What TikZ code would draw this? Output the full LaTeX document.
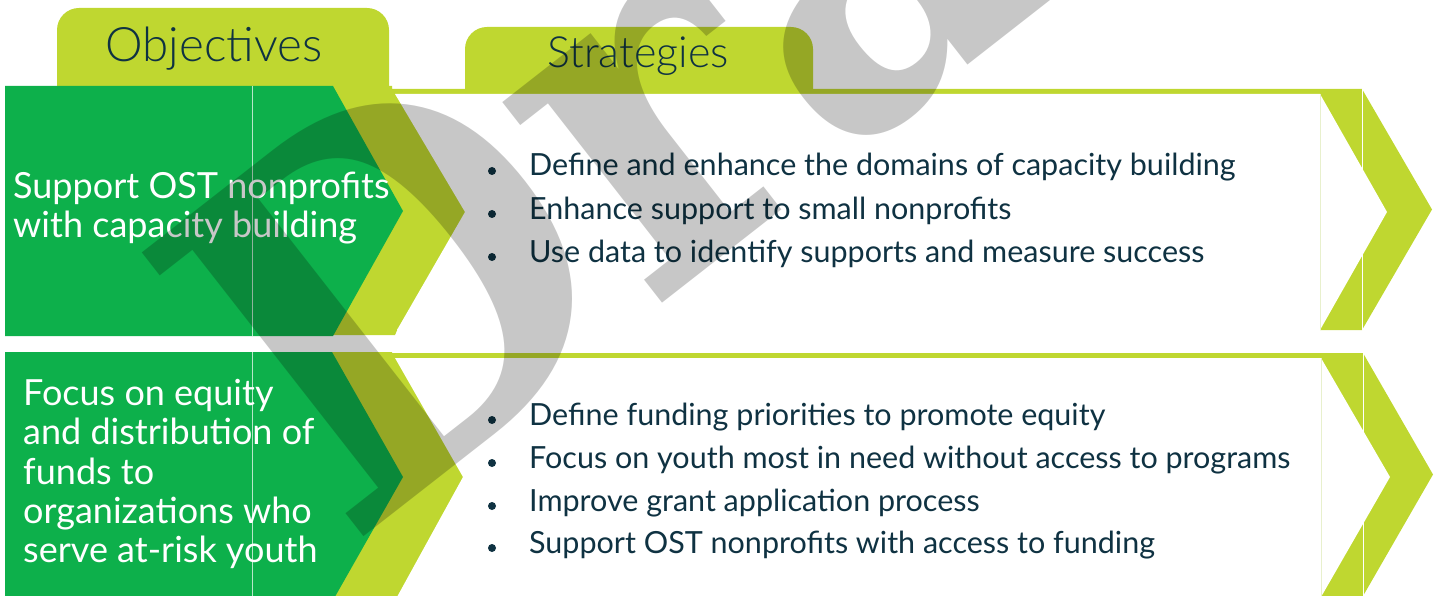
\documentclass[tikz,border=0pt]{standalone}
\usepackage{fontspec}
\setmainfont{Lato}
\IfFontExistsTF{Lato Light}{\newfontfamily\lightfont{Lato Light}}{\newfontfamily\lightfont{Lato}}
\newfontfamily\wmfont{DejaVu Serif}
\definecolor{limeG}{RGB}{191,215,48}
\definecolor{greenG}{RGB}{13,176,75}
\definecolor{navyT}{RGB}{15,50,66}
\definecolor{seamW}{RGB}{232,240,205}
\tikzset{
  headtxt/.style={inner sep=0, anchor=base, text=navyT, font=\lightfont\fontsize{#1}{#1}\selectfont},
  objtxt/.style={inner sep=0, anchor=base west, text=white, font=\fontsize{36}{40}\selectfont},
  bultxt/.style={inner sep=0, anchor=base west, text=navyT, font=\fontsize{30.5}{34}\selectfont},
  bulletdot/.style={circle, fill=navyT, inner sep=0, minimum size=8pt},
  wm/.style={inner sep=0, anchor=base west, rotate=38, text=black, text opacity=0.22, font=\wmfont\bfseries\fontsize{494}{494}\selectfont}
}
\begin{document}
\begin{tikzpicture}[x=1pt,y=-1pt]
\useasboundingbox (0,0) rectangle (1440,596);
\clip (0,0) rectangle (1440,596);
% tabs
\fill[limeG] (57,100) [rounded corners=22] -- (57,8) -- (389,8) [sharp corners] -- (389,100) -- cycle;
\fill[limeG] (465,94) [rounded corners=22] -- (465,27) -- (813,27) [sharp corners] -- (813,94) -- cycle;
% row 1 lime band and white chevron
\fill[limeG] (300,86) -| (392,89) -- (1362,89) -- (1432,209.5) -- (1362,330) -- (1320,330) -- (1320,328) -- (398,328) -- (395,335) -- (300,335) -- cycle;
\fill[white] (395,94) -- (1320,94) -- (1387,212) -- (1320,330) -- (397,330) -- (465,212) -- cycle;
\draw[seamW, line width=1pt] (1320,94) -- (1320,330);
\draw[white, line width=1pt] (1362,89) -- (1362,330);
% row 2 lime band and white chevron
\fill[limeG] (300,352) -| (392,353) -- (1363,353) -- (1433,474.5) -- (1363,596) -- (300,596) -- cycle;
\fill[white] (395,358) -- (1321,358) -- (1390,477) -- (1321,597) -- (397,597) -- (463,477) -- cycle;
\draw[seamW, line width=1pt] (1321,358) -- (1321,596);
\draw[white, line width=1pt] (1363,353) -- (1363,596);
% green arrows
\fill[greenG] (5,86) -- (333,86) -- (403,211) -- (333,336) -- (5,336) -- cycle;
\fill[greenG] (5,352) -- (332,352) -- (403,477) -- (332,602) -- (5,602) -- cycle;
\draw[white, opacity=0.7, line width=0.8pt] (252,86) -- (252,336);
\draw[white, opacity=0.7, line width=0.8pt] (252,352) -- (252,596);
% headers
\node[headtxt=47.5] (hobj) at (214,62) {Objectives};
\node[headtxt=43] (hstr) at (638,68) {Strategies};
% objective texts
\node[objtxt] (o1a) at (13,199) {Support OST nonprofits};
\node[objtxt] (o1b) at (13,237) {with capacity building};
\node[objtxt] (o2a) at (23,405) {Focus on equity};
\node[objtxt] (o2b) at (23,444) {and distribution of};
\node[objtxt] (o2c) at (23,484) {funds to};
\node[objtxt] (o2d) at (23,523) {organizations who};
\node[objtxt] (o2e) at (23,562) {serve at-risk youth};
% strategies row 1
\node[bulletdot] (b11) at (492,171) {};
\node[bulletdot] (b12) at (492,214) {};
\node[bulletdot] (b13) at (492,257) {};
\node[bultxt] (s11) at (529,176) {Define and enhance the domains of capacity building};
\node[bultxt] (s12) at (529,219) {Enhance support to small nonprofits};
\node[bultxt] (s13) at (529,262) {Use data to identify supports and measure success};
% strategies row 2
\node[bulletdot] (b21) at (492,420) {};
\node[bulletdot] (b22) at (492,463) {};
\node[bulletdot] (b23) at (492,506) {};
\node[bulletdot] (b24) at (492,548) {};
\node[bultxt] (s21) at (529,425) {Define funding priorities to promote equity};
\node[bultxt] (s22) at (529,468) {Focus on youth most in need without access to programs};
\node[bultxt] (s23) at (529,511) {Improve grant application process};
\node[bultxt] (s24) at (529,553) {Support OST nonprofits with access to funding};
% watermark
\node[wm] (wmark) at (347,550) {\scalebox{0.9}[1]{Draft}};
\end{tikzpicture}
\end{document}
